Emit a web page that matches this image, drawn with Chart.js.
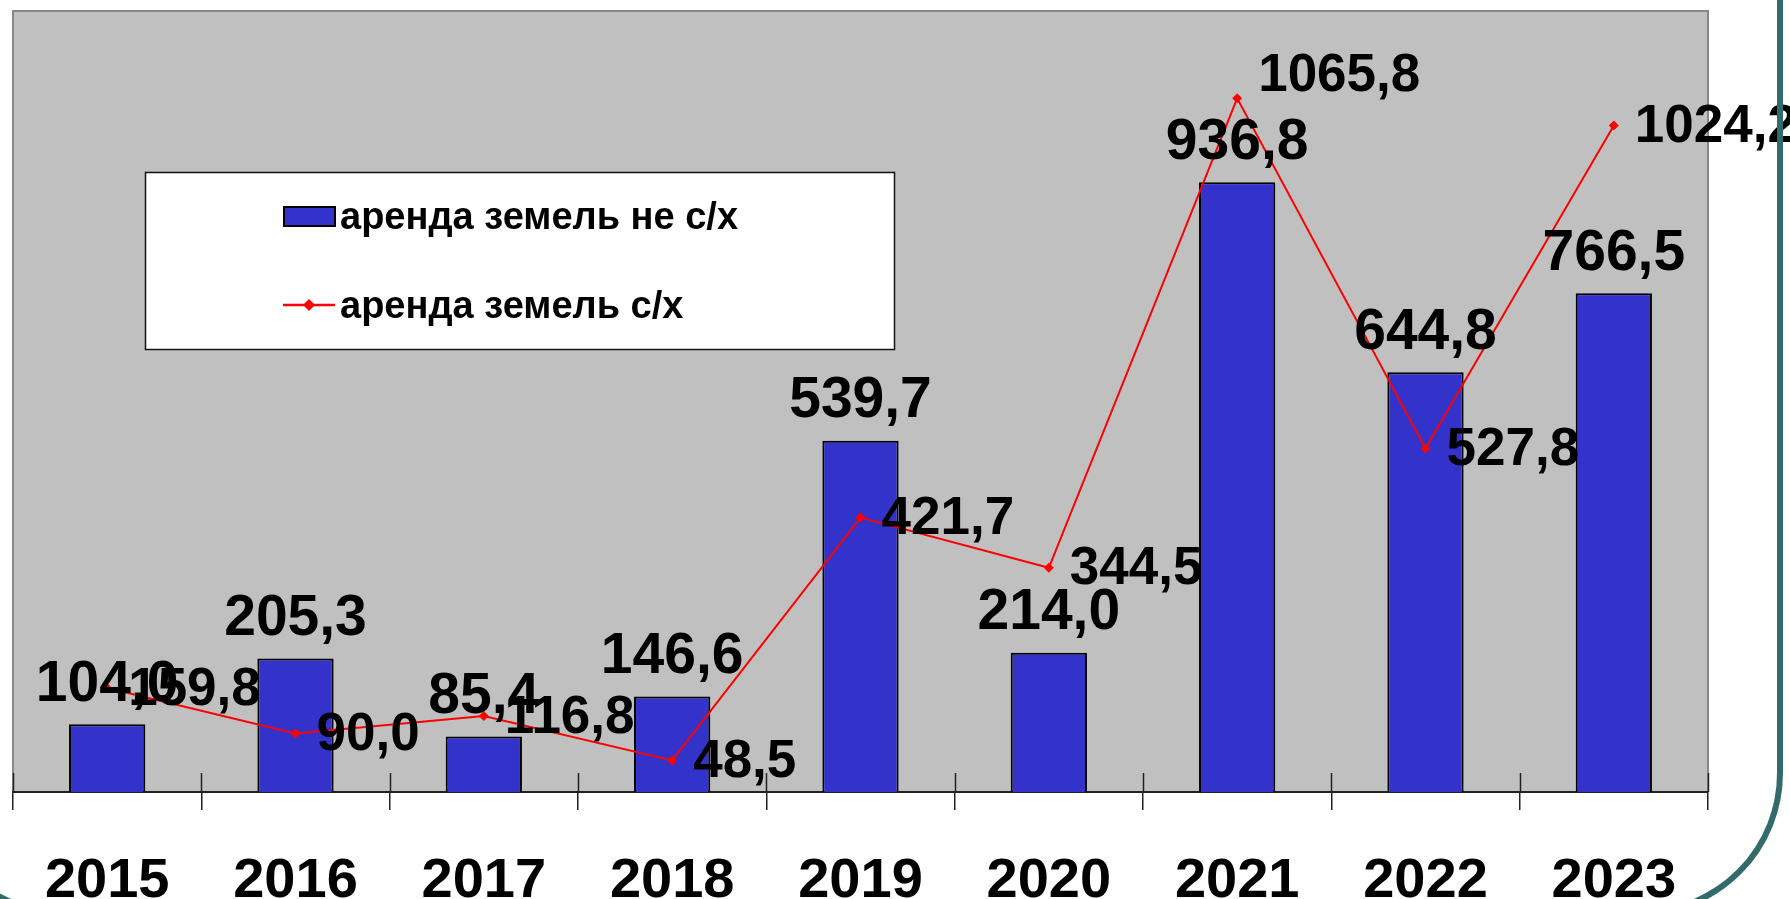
<!DOCTYPE html>
<html><head><meta charset="utf-8">
<script src="https://cdn.jsdelivr.net/npm/chart.js@4.4.1/dist/chart.umd.min.js"></script>
<style>html,body{margin:0;padding:0;background:#fff;overflow:hidden}#wrap{width:1790px;height:899px;position:relative}</style>
</head><body><div id="wrap"><canvas id="c"></canvas></div>
<script>
const categories = ['2015','2016','2017','2018','2019','2020','2021','2022','2023'];
const nonAgriRent = [104.0, 205.3, 85.4, 146.6, 539.7, 214.0, 936.8, 644.8, 766.5];
const agriRent = [159.8, 90.0, 116.8, 48.5, 421.7, 344.5, 1065.8, 527.8, 1024.2];
const seriesNames = ['аренда земель не с/х', 'аренда земель с/х'];

const FONT = '"Liberation Sans", Arial, sans-serif';
const fmt = v => v.toFixed(1).replace('.', ',');

const plotBg = {
  id: 'plotBg',
  beforeDraw(chart) {
    const {ctx, chartArea: a} = chart;
    ctx.save();
    ctx.fillStyle = '#C0C0C0';
    ctx.fillRect(a.left, a.top, a.right - a.left, a.bottom - a.top);
    ctx.strokeStyle = '#888888';
    ctx.lineWidth = 2;
    ctx.beginPath();
    ctx.moveTo(a.left, a.bottom); ctx.lineTo(a.left, a.top);
    ctx.lineTo(a.right, a.top); ctx.lineTo(a.right, a.bottom);
    ctx.stroke();
    ctx.restore();
  },
  beforeDatasetsDraw(chart) {
    const {ctx, chartArea: a, scales: {x}} = chart;
    const n = categories.length;
    const w = (x.getPixelForValue(n - 1) - x.getPixelForValue(0)) / (n - 1);
    ctx.save();
    ctx.strokeStyle = '#222';
    ctx.lineWidth = 1.5;
    ctx.beginPath();
    for (let i = 0; i <= n; i++) {
      const px = Math.round(x.getPixelForValue(0) - w / 2 + i * w) + 0.5;
      ctx.moveTo(px, a.bottom); ctx.lineTo(px, a.bottom - 19);
    }
    ctx.stroke();
    ctx.restore();
  }
};

const legendBox = {
  id: 'legendBox',
  afterDraw(chart) {
    const {ctx} = chart;
    const ds = chart.data.datasets;
    ctx.save();
    ctx.fillStyle = '#fff';
    ctx.fillRect(145, 172, 749, 177);
    ctx.strokeStyle = '#111'; ctx.lineWidth = 1.5;
    ctx.strokeRect(145.5, 172.5, 749, 177);
    ctx.fillStyle = ds[0].backgroundColor;
    ctx.fillRect(284, 207, 51, 19);
    ctx.strokeStyle = '#000'; ctx.lineWidth = 2;
    ctx.strokeRect(284, 207, 51, 19);
    ctx.strokeStyle = ds[1].borderColor; ctx.lineWidth = 2.5;
    ctx.beginPath(); ctx.moveTo(283, 305); ctx.lineTo(335, 305); ctx.stroke();
    ctx.fillStyle = ds[1].borderColor;
    ctx.beginPath(); ctx.moveTo(309, 299); ctx.lineTo(315, 305); ctx.lineTo(309, 311); ctx.lineTo(303, 305); ctx.closePath(); ctx.fill();
    ctx.fillStyle = '#000';
    ctx.font = 'bold 38px ' + FONT;
    ctx.textAlign = 'left'; ctx.textBaseline = 'alphabetic';
    ctx.fillText(ds[0].label, 340, 229);
    ctx.fillText(ds[1].label, 340, 318);
    ctx.restore();
  }
};

const valueLabels = {
  id: 'valueLabels',
  afterDatasetsDraw(chart, args, opts) {
    const {ctx} = chart;
    ctx.save();
    ctx.fillStyle = '#000';
    ctx.textBaseline = 'middle';
    ctx.font = 'bold 57px ' + FONT;
    const barMeta = chart.getDatasetMeta(0);
    ctx.textAlign = 'center';
    barMeta.data.forEach((el, i) => {
      ctx.fillText(fmt(chart.data.datasets[0].data[i]), el.x, el.y - 39);
    });
    ctx.font = 'bold 53px ' + FONT;
    const lineMeta = chart.getDatasetMeta(1);
    ctx.textAlign = 'left';
    lineMeta.data.forEach((el, i) => {
      const dy = (opts.lineShift && opts.lineShift[i]) || 0;
      ctx.fillText(fmt(chart.data.datasets[1].data[i]), el.x + 21, el.y + 2 + dy);
    });
    ctx.restore();
  }
};

const frame = {
  id: 'frame',
  afterDraw(chart) {
    const {ctx} = chart;
    const l = -75, r = 1780, t = -200, b = 913, rad = 140;
    ctx.save();
    ctx.strokeStyle = '#326B69';
    ctx.lineWidth = 6;
    ctx.beginPath();
    ctx.moveTo(r, t);
    ctx.lineTo(r, b - rad);
    ctx.arcTo(r, b, r - rad, b, rad);
    ctx.lineTo(l + rad, b);
    ctx.arcTo(l, b, l, b - rad, rad);
    ctx.lineTo(l, t);
    ctx.stroke();
    ctx.restore();
  }
};

new Chart(document.getElementById('c'), {
  type: 'bar',
  data: {
    labels: categories,
    datasets: [
      {
        type: 'bar', label: seriesNames[0], data: nonAgriRent, order: 1,
        backgroundColor: '#3333CC', borderColor: '#000', borderWidth: 2,
        barPercentage: 0.405, categoryPercentage: 1.0
      },
      {
        type: 'line', label: seriesNames[1], data: agriRent, order: 0,
        borderColor: '#FF0000', backgroundColor: '#FF0000', borderWidth: 2,
        pointStyle: 'rectRot', pointRadius: 5, pointBorderWidth: 0,
        pointBackgroundColor: '#FF0000', tension: 0, fill: false
      }
    ]
  },
  options: {
    responsive: true, maintainAspectRatio: false, animation: false,
    layout: { padding: { left: 13, right: 82, top: 11, bottom: 0 } },
    scales: {
      x: {
        offset: true,
        grid: { offset: true, drawOnChartArea: false, drawTicks: true, tickLength: 18, color: '#222', lineWidth: 1.5 },
        border: { display: true, color: '#222', width: 2 },
        ticks: { color: '#000', font: { family: FONT, size: 56, weight: 'bold', lineHeight: 1.2 }, padding: 38, maxRotation: 0, autoSkip: false },
        afterFit: s => { s.height = 107; }
      },
      y: { display: false, min: 0, max: 1200 }
    },
    plugins: {
      legend: { display: false },
      tooltip: { enabled: false },
      valueLabels: { lineShift: { 6: -24 } }
    }
  },
  plugins: [plotBg, valueLabels, legendBox, frame]
});
</script>
</body></html>
